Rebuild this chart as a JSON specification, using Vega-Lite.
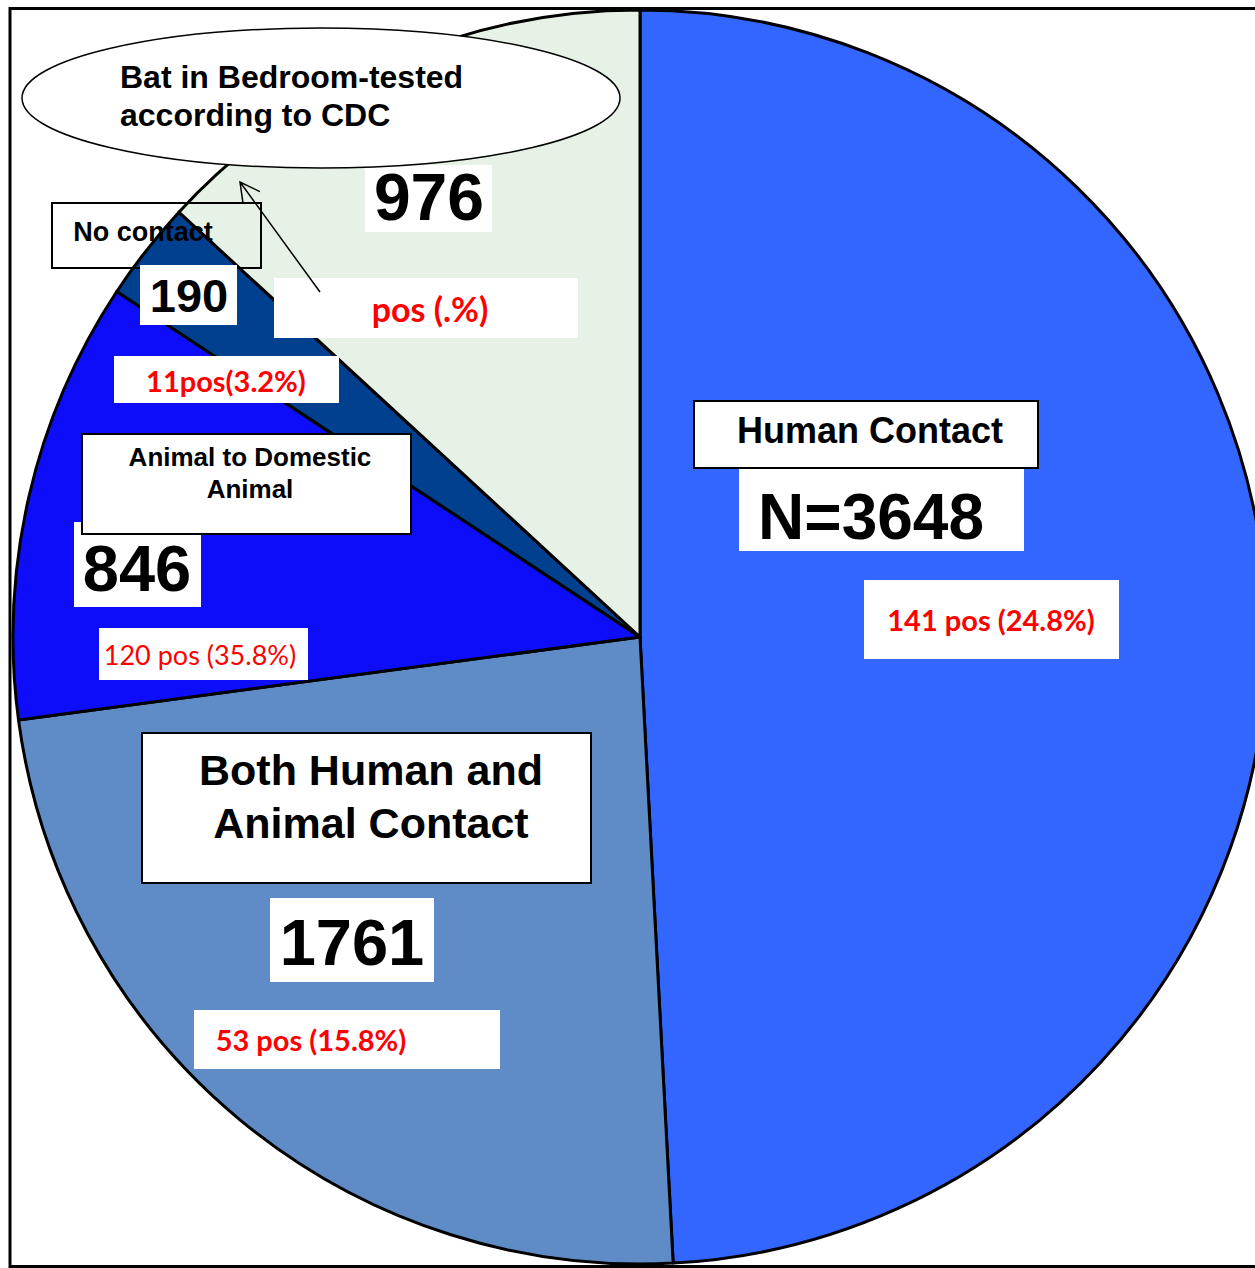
{
  "$schema": "https://vega.github.io/schema/vega-lite/v6.json",
  "width": 1230,
  "height": 1262,
  "autosize": {"type": "none"},
  "padding": {"left": 25, "top": 6, "right": 0, "bottom": 0},
  "background": "white",
  "config": {"view": {"stroke": null}},
  "data": {
    "values": [
      {"k": 1, "s": "Human Contact", "label": "Human Contact", "n": 3648, "count": "N=3648", "pos": "141 pos (24.8%)"},
      {"k": 2, "s": "Both Human and Animal Contact", "label": "Both Human and\nAnimal Contact", "n": 1761, "count": "1761", "pos": "53 pos (15.8%)"},
      {"k": 3, "s": "Animal to Domestic Animal", "label": "Animal to Domestic\nAnimal", "n": 846, "count": "846", "pos": "120 pos (35.8%)"},
      {"k": 4, "s": "No contact", "label": "No contact", "n": 190, "count": "190", "pos": "11pos(3.2%)"},
      {"k": 5, "s": "Bat in Bedroom-tested according to CDC", "label": "Bat in Bedroom-tested\naccording to CDC", "n": 976, "count": "976", "pos": "pos (.%)"}
    ]
  },
  "layer": [
    {
      "mark": {"type": "arc", "radius": 627, "stroke": "black", "strokeWidth": 3, "strokeJoin": "round"},
      "encoding": {
        "theta": {"field": "n", "type": "quantitative", "stack": true},
        "order": {"field": "k", "type": "quantitative"},
        "color": {
          "field": "s", "type": "nominal", "legend": null,
          "scale": {
            "domain": ["Human Contact", "Both Human and Animal Contact", "Animal to Domestic Animal", "No contact", "Bat in Bedroom-tested according to CDC"],
            "range": ["#3366FF", "#5f8cc6", "#0d0dfa", "#00408f", "#e6f2e6"]
          }
        }
      }
    },
    {
      "transform": [{"filter": "datum.k === 1"}],
      "mark": {"type": "point", "size": 4, "opacity": 1, "filled": true, "fill": "white", "strokeWidth": 0,
        "shape": "M 99 -170 H 384 V -86 H 99 Z M 224 -57 H 479 V 22 H 224 Z M -370 261 H -206 V 345 H -370 Z M -446 373 H -140 V 432 H -446 Z M -566 -115 H -439 V -30 H -566 Z M -541 -9 H -332 V 43 H -541 Z M -526 -281 H -301 V -234 H -526 Z M -366 -359 H -62 V -299 H -366 Z M -275 -472 H -148 V -405 H -275 Z"}
    },
    {
      "transform": [{"filter": "datum.k === 1"}],
      "mark": {"type": "point", "size": 4, "opacity": 1, "filled": true, "fill": "white", "stroke": "black", "strokeWidth": 2,
        "shape": "M 54 -236 H 398 V -169 H 54 Z M -498 96 H -49 V 246 H -498 Z M -558 -203 H -229 V -103 H -558 Z"}
    },
    {
      "transform": [{"filter": "datum.k === 1"}],
      "mark": {"type": "point", "size": 4, "opacity": 1, "filled": false, "fill": "transparent", "stroke": "black", "strokeWidth": 2,
        "shape": "M -588 -434 H -379 V -369 H -588 Z"}
    },
    {
      "transform": [{"filter": "datum.k === 1"}],
      "mark": {"type": "point", "size": 4, "opacity": 1, "filled": true, "fill": "white", "strokeWidth": 0,
        "shape": "M -500 -372 H -403 V -312 H -500 Z"}
    },
    {
      "transform": [{"filter": "datum.k === 1"}],
      "mark": {"type": "point", "size": 4, "opacity": 1, "filled": true, "fill": "white", "stroke": "black", "strokeWidth": 1.5,
        "shape": "M -618 -539 A 299 70 0 1 0 -20 -539 A 299 70 0 1 0 -618 -539 Z"}
    },
    {
      "transform": [{"filter": "datum.k === 1"}],
      "mark": {"type": "point", "size": 4, "opacity": 1, "filled": false, "fill": "transparent", "stroke": "black", "strokeWidth": 1.5,
        "shape": "M -320 -345 L -400 -455 M -396.9 -433.2 L -400 -455 L -380.2 -445.4"}
    },
    {
      "mark": {"type": "text", "radius": 308.8, "thetaOffset": -0.7039, "fontSize": 36, "fontWeight": "bold", "font": "Liberation Sans", "color": "black", "dy": 1},
      "encoding": {"theta": {"field": "n", "type": "quantitative", "stack": true}, "order": {"field": "k", "type": "quantitative"},
        "text": {"condition": {"test": "datum.k === 1", "field": "label"}, "value": ""}}
    },
    {
      "mark": {"type": "text", "radius": 260.8, "thetaOffset": -0.4561, "fontSize": 64, "fontWeight": "bold", "font": "Liberation Sans", "color": "black", "dy": 4},
      "encoding": {"theta": {"field": "n", "type": "quantitative", "stack": true}, "order": {"field": "k", "type": "quantitative"},
        "text": {"condition": {"test": "datum.k === 1", "field": "count"}, "value": ""}}
    },
    {
      "mark": {"type": "text", "radius": 351.4, "thetaOffset": -0.0218, "fontSize": 29, "fontWeight": "bold", "font": "Lato", "color": "#FF0000", "dy": 2},
      "encoding": {"theta": {"field": "n", "type": "quantitative", "stack": true}, "order": {"field": "k", "type": "quantitative"},
        "text": {"condition": {"test": "datum.k === 1", "field": "pos"}, "value": ""}}
    },
    {
      "mark": {"type": "text", "radius": 313.0, "thetaOffset": 0.3417, "fontSize": 43, "lineHeight": 53, "lineBreak": "\n", "fontWeight": "bold", "font": "Liberation Sans", "color": "black", "dy": -24.5},
      "encoding": {"theta": {"field": "n", "type": "quantitative", "stack": true}, "order": {"field": "k", "type": "quantitative"},
        "text": {"condition": {"test": "datum.k === 2", "field": "label"}, "value": ""}}
    },
    {
      "mark": {"type": "text", "radius": 418.8, "thetaOffset": 0.0658, "fontSize": 65, "fontWeight": "bold", "font": "Liberation Sans", "color": "black", "dy": 4},
      "encoding": {"theta": {"field": "n", "type": "quantitative", "stack": true}, "order": {"field": "k", "type": "quantitative"},
        "text": {"condition": {"test": "datum.k === 2", "field": "count"}, "value": ""}}
    },
    {
      "mark": {"type": "text", "radius": 520.2, "thetaOffset": -0.0079, "fontSize": 29, "fontWeight": "bold", "font": "Lato", "color": "#FF0000", "dy": 2},
      "encoding": {"theta": {"field": "n", "type": "quantitative", "stack": true}, "order": {"field": "k", "type": "quantitative"},
        "text": {"condition": {"test": "datum.k === 2", "field": "pos"}, "value": ""}}
    },
    {
      "mark": {"type": "text", "radius": 423.1, "thetaOffset": 0.1726, "fontSize": 26, "lineHeight": 32, "lineBreak": "\n", "fontWeight": "bold", "font": "Liberation Sans", "color": "black", "dy": -15},
      "encoding": {"theta": {"field": "n", "type": "quantitative", "stack": true}, "order": {"field": "k", "type": "quantitative"},
        "text": {"condition": {"test": "datum.k === 3", "field": "label"}, "value": ""}}
    },
    {
      "mark": {"type": "text", "radius": 507.8, "thetaOffset": -0.0873, "fontSize": 65, "fontWeight": "bold", "font": "Liberation Sans", "color": "black", "dy": 4},
      "encoding": {"theta": {"field": "n", "type": "quantitative", "stack": true}, "order": {"field": "k", "type": "quantitative"},
        "text": {"condition": {"test": "datum.k === 3", "field": "count"}, "value": ""}}
    },
    {
      "mark": {"type": "text", "radius": 440.4, "thetaOffset": -0.2663, "fontSize": 27, "fontWeight": "normal", "font": "Liberation Sans Narrow, Lato", "color": "#FF0000", "dy": 2},
      "encoding": {"theta": {"field": "n", "type": "quantitative", "stack": true}, "order": {"field": "k", "type": "quantitative"},
        "text": {"condition": {"test": "datum.k === 3", "field": "pos"}, "value": ""}}
    },
    {
      "mark": {"type": "text", "radius": 641.1, "thetaOffset": 0.0197, "fontSize": 27, "fontWeight": "bold", "font": "Liberation Sans", "color": "black", "dy": 1},
      "encoding": {"theta": {"field": "n", "type": "quantitative", "stack": true}, "order": {"field": "k", "type": "quantitative"},
        "text": {"condition": {"test": "datum.k === 4", "field": "label"}, "value": ""}}
    },
    {
      "mark": {"type": "text", "radius": 566.0, "thetaOffset": -0.0154, "fontSize": 47, "fontWeight": "bold", "font": "Liberation Sans", "color": "black", "dy": 3},
      "encoding": {"theta": {"field": "n", "type": "quantitative", "stack": true}, "order": {"field": "k", "type": "quantitative"},
        "text": {"condition": {"test": "datum.k === 4", "field": "count"}, "value": ""}}
    },
    {
      "mark": {"type": "text", "radius": 486.8, "thetaOffset": -0.1103, "fontSize": 29, "fontWeight": "bold", "font": "Lato", "color": "#FF0000", "dy": 2},
      "encoding": {"theta": {"field": "n", "type": "quantitative", "stack": true}, "order": {"field": "k", "type": "quantitative"},
        "text": {"condition": {"test": "datum.k === 4", "field": "pos"}, "value": ""}}
    },
    {
      "mark": {"type": "text", "radius": 488.9, "thetaOffset": -0.0332, "fontSize": 66, "fontWeight": "bold", "font": "Liberation Sans", "color": "black", "dy": 4},
      "encoding": {"theta": {"field": "n", "type": "quantitative", "stack": true}, "order": {"field": "k", "type": "quantitative"},
        "text": {"condition": {"test": "datum.k === 5", "field": "count"}, "value": ""}}
    },
    {
      "mark": {"type": "text", "radius": 388.6, "thetaOffset": -0.1578, "fontSize": 34, "fontWeight": "bold", "font": "Lato", "color": "#FF0000", "dy": 2},
      "encoding": {"theta": {"field": "n", "type": "quantitative", "stack": true}, "order": {"field": "k", "type": "quantitative"},
        "text": {"condition": {"test": "datum.k === 5", "field": "pos"}, "value": ""}}
    },
    {
      "mark": {"type": "text", "radius": 750.4, "thetaOffset": -0.3524, "align": "left", "fontSize": 32, "lineHeight": 38, "lineBreak": "\n", "fontWeight": "bold", "font": "Liberation Sans", "color": "black", "dy": -18},
      "encoding": {"theta": {"field": "n", "type": "quantitative", "stack": true}, "order": {"field": "k", "type": "quantitative"},
        "text": {"condition": {"test": "datum.k === 5", "field": "label"}, "value": ""}}
    },
    {
      "transform": [{"filter": "datum.k === 1"}],
      "mark": {"type": "point", "size": 4, "opacity": 1, "filled": false, "fill": "transparent", "stroke": "black", "strokeWidth": 3,
        "shape": "M 640 -628.5 H -630 V 629.5 H 640"}
    }
  ]
}
